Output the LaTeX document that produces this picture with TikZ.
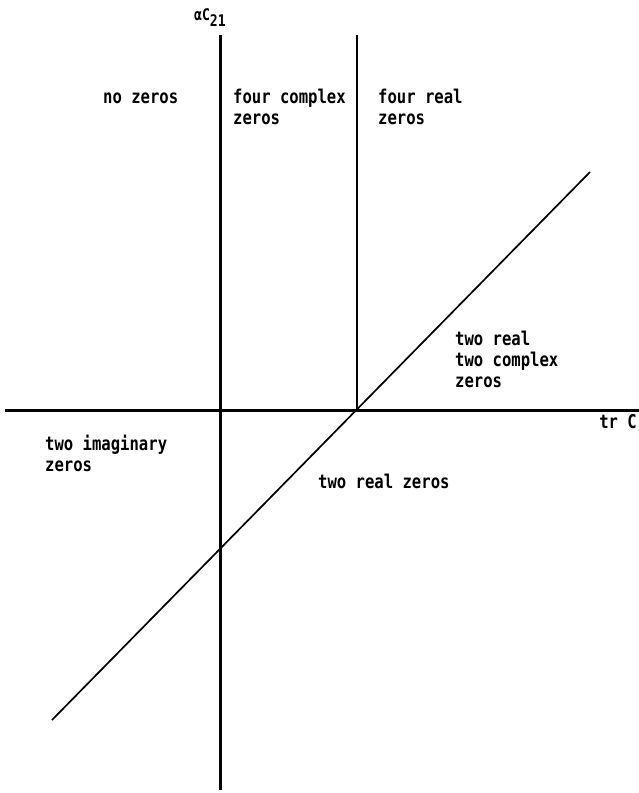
\documentclass[tikz,border=0pt]{standalone}
\usepackage{fontspec}
\usepackage{tikz}
\newfontfamily\plotfont[FakeStretch=0.82]{DejaVu Sans Mono}
\tikzset{
  axis/.style={line width=3pt, black},
  border/.style={line width=2.4pt, black},
  slope/.style={line width=1.7pt, black},
  region/.style={font=\plotfont\bfseries\fontsize{19}{21}\selectfont,
    align=left, anchor=base west, inner sep=0pt},
  axislabel/.style={font=\plotfont\bfseries\fontsize{16}{18}\selectfont,
    inner sep=0pt},
}
\begin{document}
\begin{tikzpicture}[x=1pt,y=-1pt]
  \useasboundingbox (0,0) rectangle (639,793);
  % axes and region borders
  \coordinate (ytop) at (220,35);
  \coordinate (ybot) at (220,790);
  \coordinate (xl) at (5,410);
  \coordinate (xr) at (639,410);
  \coordinate (k) at (357,410);
  \coordinate (ktop) at (357,35);
  \coordinate (dl) at (52,720);
  \coordinate (dh) at (590,172);
  \draw[axis] (ytop) -- (ybot);
  \draw[axis] (xl) -- (xr);
  \draw[border] (k) -- (ktop);
  \draw[slope] (dl) -- (dh);
  \node[axislabel, anchor=base west] (ylab) at (194,20) {αC\raisebox{-6pt}{21}};
  \node[region, anchor=base east] (xlab) at (637,428) {tr C};
  % regions (base = last line)
  \node[region] (none) at (103,103) {no zeros};
  \node[region] (fourc) at (233,124) {four complex\\zeros};
  \node[region] (fourr) at (378,124) {four real\\zeros};
  \node[region] (tworc) at (455,387) {two real\\two complex\\zeros};
  \node[region] (twoi) at (45,471) {two imaginary\\zeros};
  \node[region] (twor) at (318,488) {two real zeros};
\end{tikzpicture}
\end{document}
